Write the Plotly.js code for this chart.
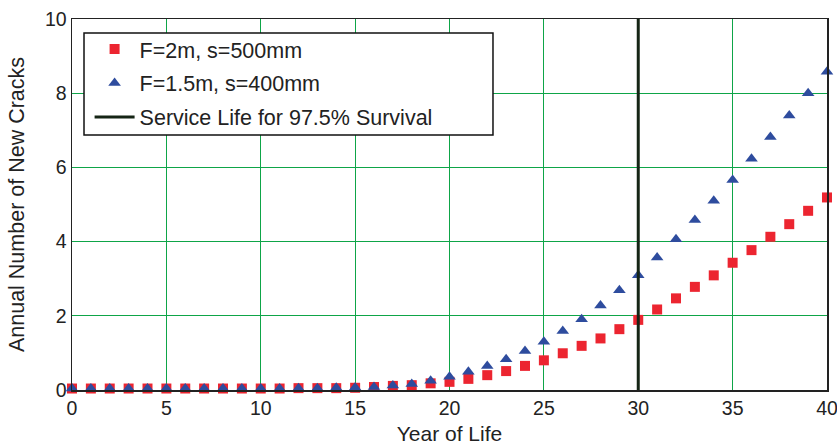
<!DOCTYPE html>
<html>
<head>
<meta charset="utf-8">
<script src="https://cdn.plot.ly/plotly-3.0.1.min.js"></script>
<style>html,body{margin:0;padding:0;background:#fff;}#chart{width:837px;height:445px;}</style>
</head>
<body>
<div id="chart"></div>
<script>
const years = [0,1,2,3,4,5,6,7,8,9,10,11,12,13,14,15,16,17,18,19,20,21,22,23,24,25,26,27,28,29,30,31,32,33,34,35,36,37,38,39,40];
const cracksF2 = [0.04,0.04,0.04,0.04,0.04,0.04,0.04,0.04,0.04,0.04,0.04,0.04,0.05,0.05,0.05,0.06,0.08,0.11,0.13,0.18,0.22,0.30,0.40,0.51,0.65,0.80,0.99,1.19,1.39,1.64,1.89,2.17,2.47,2.78,3.09,3.43,3.77,4.13,4.47,4.83,5.19];
const cracksF15 = [0.04,0.04,0.04,0.04,0.04,0.04,0.04,0.04,0.04,0.04,0.04,0.04,0.05,0.05,0.06,0.07,0.08,0.12,0.16,0.25,0.36,0.49,0.65,0.83,1.05,1.30,1.59,1.91,2.28,2.69,3.09,3.57,4.06,4.58,5.10,5.66,6.23,6.82,7.40,8.00,8.58];
const serviceLifeYear = 30;
const serviceLineY = [0, 10];
const seriesNames = ["F=2m, s=500mm", "F=1.5m, s=400mm", "Service Life for 97.5% Survival"];

const traces = [
  {x: years, y: cracksF2, name: seriesNames[0], legendgroup: "a", type: "scatter", mode: "markers",
   marker: {symbol: "square", size: 10, color: "#ec2530"}, cliponaxis: false},
  {x: years, y: cracksF15, name: seriesNames[1], legendgroup: "b", type: "scatter", mode: "markers",
   marker: {symbol: "triangle-up", size: 11, color: "#2e4c9e"}, cliponaxis: false},
  {x: [serviceLifeYear, serviceLifeYear], y: serviceLineY, name: seriesNames[2], legendgroup: "c", type: "scatter", mode: "lines",
   line: {color: "#152515", width: 3}}
];

const gridGreen = "#0ea548";

const layout = {
  width: 837, height: 445,
  margin: {l: 72, r: 10, t: 19, b: 55},
  paper_bgcolor: "#fff", plot_bgcolor: "#fff",
  font: {family: "Liberation Sans, Arial, sans-serif", size: 18, color: "#222"},
  showlegend: true,
  legend: {x: 0.0233, y: 0.974, xanchor: "left", yanchor: "top",
    bgcolor: "rgba(0,0,0,0)", borderwidth: 0, traceorder: "grouped",
    itemwidth: 40, font: {size: 21.5, color: "#222"}, tracegroupgap: 3},
  shapes: [{type: "rect", xref: "paper", yref: "paper", x0: 0.0159, x1: 0.5576, y0: 0.687, y1: 0.962,
    line: {color: "#111", width: 1.5}, fillcolor: "#fff", layer: "above"}],
  xaxis: {range: [0, 40], dtick: 5, tick0: 0, showgrid: true, gridcolor: gridGreen, gridwidth: 1,
    zeroline: false, showline: true, linecolor: "#222", linewidth: 1.5, mirror: true,
    ticks: "", tickfont: {size: 19.5}, ticklabeloverflow: "allow",
    title: {text: "Year of Life", font: {size: 21}, standoff: 10}},
  yaxis: {range: [0, 10], dtick: 2, tick0: 0, showgrid: true, gridcolor: gridGreen, gridwidth: 1,
    zeroline: false, showline: true, linecolor: "#222", linewidth: 1.5, mirror: true,
    ticks: "", tickfont: {size: 19.5},
    title: {text: "Annual Number of New Cracks", font: {size: 21.5}, standoff: 14}}
};

Plotly.newPlot("chart", traces, layout, {displayModeBar: false, staticPlot: true});
</script>
</body>
</html>
